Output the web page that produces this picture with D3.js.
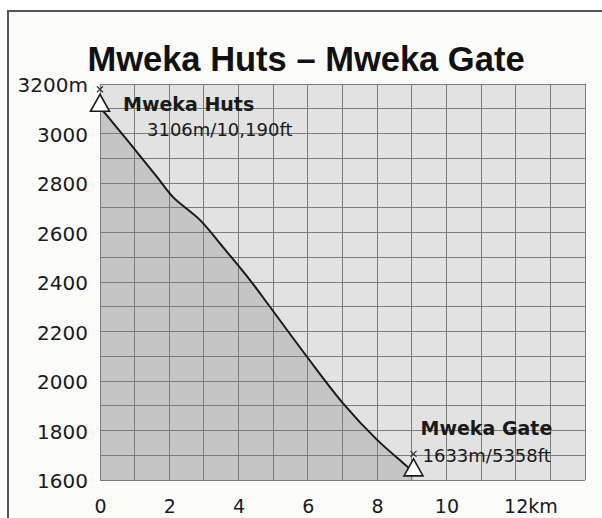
<!DOCTYPE html>
<html>
<head>
<meta charset="utf-8">
<script src="https://cdn.jsdelivr.net/npm/d3@7/dist/d3.min.js"></script>
<style>
  html, body { margin: 0; padding: 0; background: #ffffff; }
  svg { display: block; }
</style>
</head>
<body>
<svg id="chart" width="602" height="518"></svg>
<script>
// ---- data ----
const title = "Mweka Huts \u2013 Mweka Gate";
const distanceKm = [0, 0.5, 0.95, 1.65, 2.11, 2.89, 3.55, 4.33, 4.91, 5.98, 7.01, 8.0, 8.75, 9.05];
const elevationM = [3106, 3022, 2945, 2824, 2743, 2650, 2541, 2408, 2299, 2097, 1911, 1762, 1669, 1633];
const xTicks = [0, 2, 4, 6, 8, 10, 12];
const yTicks = [1600, 1800, 2000, 2200, 2400, 2600, 2800, 3000, 3200];
const waypointNames = ["Mweka Huts", "Mweka Gate"];
const waypointInfo = ["3106m/10,190ft", "1633m/5358ft"];
const waypointKm = [0, 9.05];
const waypointElev = [3106, 1633];

// ---- layout ----
const svg = d3.select("#chart");
const W = 602, H = 518;
const plot = { left: 100, right: 585, top: 84, bottom: 480 };

// outer frame
svg.append("rect").attr("x", 0).attr("y", 0).attr("width", W).attr("height", H).attr("fill", "#ffffff");
svg.append("rect").attr("x", 8).attr("y", 11).attr("width", W + 20).attr("height", H + 20)
  .attr("fill", "#fbfbf9").attr("stroke", "#555").attr("stroke-width", 2);

const x = d3.scaleLinear().domain([0, 14]).range([plot.left, plot.right]);
const y = d3.scaleLinear().domain([1600, 3200]).range([plot.bottom, plot.top]);

// title
svg.append("text").attr("x", 306).attr("y", 71).attr("text-anchor", "middle")
  .attr("font-family", "Liberation Sans, Arial, sans-serif").attr("font-weight", "bold")
  .attr("font-size", 34.5).attr("fill", "#111").text(title);

// plot background
svg.append("rect").attr("x", plot.left).attr("y", plot.top)
  .attr("width", plot.right - plot.left).attr("height", plot.bottom - plot.top)
  .attr("fill", "#e2e2e2");

const pts = distanceKm.map((d, i) => [d, elevationM[i]]);
const curve = d3.curveCatmullRom.alpha(0.5);

// area under profile
const area = d3.area().x(d => x(d[0])).y0(y(1600)).y1(d => y(d[1])).curve(curve);
svg.append("path").datum(pts).attr("d", area).attr("fill", "#c5c5c5");

// grid
const g = svg.append("g").attr("stroke", "#7c7c7c").attr("stroke-width", 1).attr("shape-rendering", "crispEdges");
d3.range(0, 15, 1).forEach(k => {
  g.append("line").attr("x1", x(k)).attr("x2", x(k)).attr("y1", plot.top).attr("y2", plot.bottom);
});
d3.range(1600, 3201, 100).forEach(m => {
  g.append("line").attr("x1", plot.left).attr("x2", plot.right).attr("y1", y(m)).attr("y2", y(m));
});

// profile line
const line = d3.line().x(d => x(d[0])).y(d => y(d[1])).curve(curve);
svg.append("path").datum(pts).attr("d", line).attr("fill", "none")
  .attr("stroke", "#1a1a1a").attr("stroke-width", 2);

// axes (labels only)
const labelFont = "DejaVu Sans, Verdana, sans-serif";
const yAxis = svg.append("g").attr("transform", `translate(${plot.left},0)`)
  .call(d3.axisLeft(y).tickValues(yTicks).tickSize(0).tickPadding(12)
    .tickFormat(d => d === 3200 ? d + "m" : d));
yAxis.select(".domain").remove();
yAxis.selectAll("text").attr("font-family", labelFont).attr("font-size", 20)
  .attr("fill", "#1a1a1a").attr("dy", "0.38em");

const xAxis = svg.append("g").attr("transform", `translate(0,${plot.bottom})`)
  .call(d3.axisBottom(x).tickValues(xTicks).tickSize(0).tickPadding(0)
    .tickFormat(d => d));
xAxis.select(".domain").remove();
xAxis.selectAll("text").attr("font-family", labelFont).attr("font-size", 19)
  .attr("fill", "#1a1a1a").attr("dy", 33);
// last tick: "12km" with the number centred on the tick
xAxis.selectAll(".tick").filter(d => d === xTicks[xTicks.length - 1]).select("text")
  .each(function () {
    const t = d3.select(this);
    const w = this.getComputedTextLength();
    t.attr("text-anchor", "start").attr("x", -w / 2).text(t.text() + "km");
  });

// waypoints
const labelDx = [[23, 47], [7, 9]];
const labelDy = [[4, 29], [-37, -10]];
waypointKm.forEach((k, i) => {
  const px = x(k), py = y(waypointElev[i]);
  // small cross above marker
  svg.append("path")
    .attr("d", `M${px - 3},${py - 21}L${px + 3},${py - 15}M${px + 3},${py - 21}L${px - 3},${py - 15}`)
    .attr("stroke", "#333").attr("stroke-width", 1.2);
  svg.append("path")
    .attr("d", `M${px},${py - 13}L${px + 9.5},${py + 4}L${px - 9.5},${py + 4}Z`)
    .attr("fill", "#ffffff").attr("stroke", "#1a1a1a").attr("stroke-width", 1.6)
    .attr("stroke-linejoin", "miter");
  svg.append("text").attr("x", px + labelDx[i][0]).attr("y", py + labelDy[i][0])
    .attr("font-family", labelFont).attr("font-weight", "bold").attr("font-size", 19)
    .attr("fill", "#1a1a1a").text(waypointNames[i]);
  svg.append("text").attr("x", px + labelDx[i][1]).attr("y", py + labelDy[i][1])
    .attr("font-family", labelFont).attr("font-size", 18)
    .attr("fill", "#1a1a1a").text(waypointInfo[i]);
});
</script>
</body>
</html>
